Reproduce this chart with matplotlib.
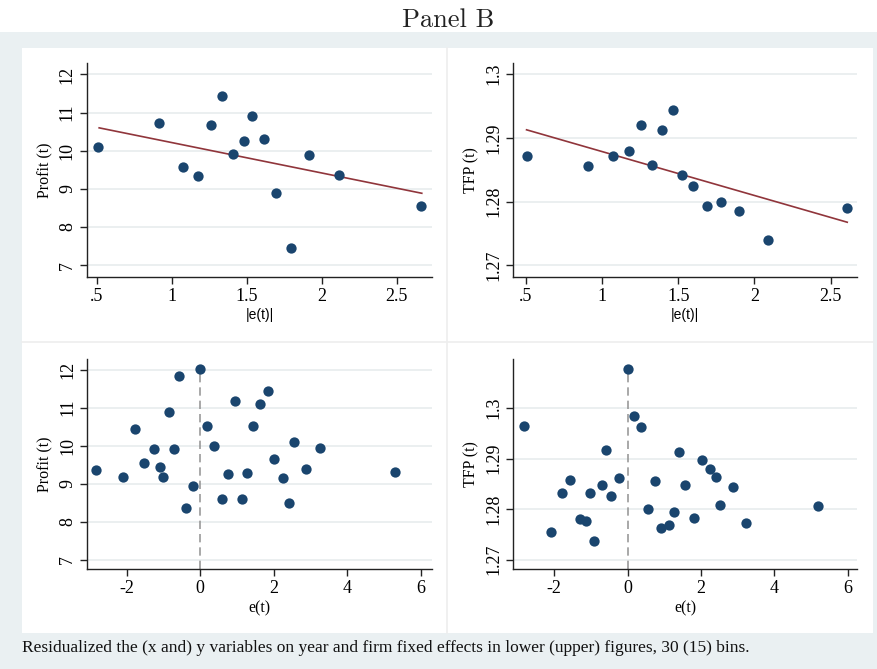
import matplotlib
matplotlib.use("Agg")
import matplotlib.pyplot as plt
from matplotlib.patches import Rectangle
from matplotlib.lines import Line2D

# ---------------- data ----------------
# Top-left: |e(t)| vs Profit (15 bins)
tl_x = [0.511, 0.913, 1.073, 1.178, 1.26, 1.336, 1.411, 1.48, 1.536, 1.618, 1.698, 1.793, 1.918, 2.118, 2.66]
tl_y = [10.09, 10.74, 9.57, 9.34, 10.68, 11.44, 9.92, 10.25, 10.90, 10.31, 8.88, 7.45, 9.88, 9.37, 8.54]
tl_fit_x = [0.516, 2.667]
tl_fit_y = [10.60, 8.885]

# Top-right: |e(t)| vs TFP (15 bins)
tr_x = [0.504, 0.909, 1.069, 1.174, 1.255, 1.327, 1.395, 1.465, 1.526, 1.598, 1.686, 1.780, 1.896, 2.086, 2.609]
tr_y = [1.2871, 1.28565, 1.28707, 1.28801, 1.29194, 1.28581, 1.29120, 1.29440, 1.28419, 1.28241,
        1.27937, 1.28000, 1.27853, 1.27403, 1.27901]
tr_fit_x = [0.504, 2.609]
tr_fit_y = [1.29126, 1.27675]

# Bottom-left: e(t) vs Profit (30 bins)
bl_x = [-2.825, -2.091, -1.764, -1.537, -1.256, -1.084, -1.002, -0.857, -0.703, -0.576,
        -0.395, -0.204, -0.005, 0.177, 0.376, 0.594, 0.766, 0.957, 1.138, 1.265,
        1.438, 1.628, 1.855, 2.0, 2.245, 2.417, 2.544, 2.889, 3.261, 5.302]
bl_y = [9.368, 9.175, 10.447, 9.535, 9.912, 9.447, 9.175, 10.886, 9.912, 11.833,
        8.360, 8.939, 12.018, 10.526, 9.991, 8.605, 9.263, 11.175, 8.605, 9.289,
        10.526, 11.105, 11.447, 9.640, 9.149, 8.5, 10.096, 9.395, 9.930, 9.316]

# Bottom-right: e(t) vs TFP (30 bins)
br_x = [-2.827, -2.091, -1.782, -1.573, -1.3, -1.127, -1.018, -0.909, -0.709, -0.6,
        -0.455, -0.236, 0.0, 0.164, 0.364, 0.545, 0.755, 0.909, 1.118, 1.264,
        1.391, 1.564, 1.809, 2.027, 2.236, 2.409, 2.518, 2.882, 3.218, 5.2]
br_y = [1.29656, 1.27555, 1.28315, 1.28579, 1.27806, 1.27766, 1.28315, 1.27377, 1.28474, 1.29174,
        1.28269, 1.28619, 1.30786, 1.29848, 1.29623, 1.28004, 1.28559, 1.27634, 1.27687, 1.27951,
        1.29134, 1.28474, 1.27819, 1.28976, 1.28804, 1.28639, 1.28084, 1.28434, 1.27720, 1.28071]

top_xticks = [0.5, 1, 1.5, 2, 2.5]
top_xticklabels = [".5", "1", "1.5", "2", "2.5"]
bot_xticks = [-2, 0, 2, 4, 6]
bot_xticklabels = ["-2", "0", "2", "4", "6"]
profit_ticks = [7, 8, 9, 10, 11, 12]
profit_ticklabels = ["7", "8", "9", "10", "11", "12"]
tfp_ticks = [1.27, 1.28, 1.29, 1.30]
tfp_ticklabels = ["1.27", "1.28", "1.29", "1.3"]

title = "Panel B"
caption = ("Residualized the (x and) y variables on year and firm fixed effects "
           "in lower (upper) figures, 30 (15) bins.")

# ---------------- style ----------------
W, H = 877, 669
plt.rcParams['font.family'] = ['Liberation Serif', 'DejaVu Serif']
NAVY = '#1a456e'
MAROON = '#90353b'
BG = '#eaf0f2'
GRID = '#e8ecee'

fig = plt.figure(figsize=(W / 100, H / 100), dpi=100)
fig.patch.set_facecolor('white')


def fx(px):
    return px / W


def fy(py):
    return 1 - py / H


# background band and white panel area
fig.patches.append(Rectangle((0, 0), 1, fy(32), transform=fig.transFigure,
                             facecolor=BG, edgecolor='none', zorder=-10))
fig.patches.append(Rectangle((fx(22), fy(633)), fx(873) - fx(22), fy(48) - fy(633),
                             transform=fig.transFigure, facecolor='white',
                             edgecolor='none', zorder=-9))
fig.lines.append(Line2D([fx(446.5), fx(446.5)], [fy(48), fy(633)], transform=fig.transFigure,
                        color='#eeeeee', lw=1.2, zorder=-8))
fig.lines.append(Line2D([fx(22), fx(873)], [fy(341.5), fy(341.5)], transform=fig.transFigure,
                        color='#eeeeee', lw=1.2, zorder=-8))


def make_ax(left, right, top, bottom):
    ax = fig.add_axes([fx(left), fy(bottom), fx(right) - fx(left), fy(top) - fy(bottom)])
    ax.set_facecolor('none')
    for s in ['top', 'right']:
        ax.spines[s].set_visible(False)
    for s in ['left', 'bottom']:
        ax.spines[s].set_linewidth(1.0)
        ax.spines[s].set_color('#222222')
    ax.tick_params(direction='out', length=5, width=1.0, color='#222222',
                   labelsize=13, pad=3)
    ax.tick_params(axis='y', labelrotation=90)
    ax.set_axisbelow(True)
    ax.yaxis.grid(True, color=GRID, lw=1.2)
    return ax


def style_yticks(ax):
    for lbl in ax.get_yticklabels():
        lbl.set_va('center')


# Top-left
ax1 = make_ax(87, 432, 63, 277)
ax1.scatter(tl_x, tl_y, s=55, color=NAVY, zorder=3, linewidths=0)
ax1.plot(tl_fit_x, tl_fit_y, color=MAROON, lw=1.2, zorder=2)
ax1.set_xlim(0.435, 2.735)
ax1.set_ylim(6.69, 12.3)
ax1.set_xticks(top_xticks, top_xticklabels)
ax1.set_yticks(profit_ticks, profit_ticklabels)
ax1.set_ylabel("Profit (t)", fontsize=11.5, labelpad=4)
ax1.set_xlabel("|e(t)|", fontsize=10, family=['Liberation Sans', 'DejaVu Sans'], labelpad=2)
style_yticks(ax1)

# Top-right
ax2 = make_ax(513.3, 857.3, 63.3, 276.7)
ax2.scatter(tr_x, tr_y, s=55, color=NAVY, zorder=3, linewidths=0)
ax2.plot(tr_fit_x, tr_fit_y, color=MAROON, lw=1.2, zorder=2)
ax2.set_xlim(0.417, 2.675)
ax2.set_ylim(1.2682, 1.3017)
ax2.set_xticks(top_xticks, top_xticklabels)
ax2.set_yticks(tfp_ticks, tfp_ticklabels)
ax2.set_ylabel("TFP (t)", fontsize=11.5, labelpad=4)
ax2.set_xlabel("|e(t)|", fontsize=10, family=['Liberation Sans', 'DejaVu Sans'], labelpad=2)
style_yticks(ax2)

# Bottom-left
ax3 = make_ax(87.3, 431.7, 359.3, 569.3)
ax3.scatter(bl_x, bl_y, s=55, color=NAVY, zorder=3, linewidths=0)
ax3.set_xlim(-3.07, 6.30)
ax3.set_ylim(6.746, 12.27)
ax3.axvline(0, ymin=0, ymax=0.95, color='#999999', lw=1.2, ls=(0, (5, 3)), zorder=2)
ax3.set_xticks(bot_xticks, bot_xticklabels)
ax3.set_yticks(profit_ticks, profit_ticklabels)
ax3.set_ylabel("Profit (t)", fontsize=11.5, labelpad=4)
ax3.set_xlabel("e(t)", fontsize=11.5, labelpad=2)
style_yticks(ax3)

# Bottom-right
ax4 = make_ax(513.3, 857.3, 359.3, 569.3)
ax4.scatter(br_x, br_y, s=55, color=NAVY, zorder=3, linewidths=0)
ax4.set_xlim(-3.118, 6.264)
ax4.set_ylim(1.26808, 1.3097)
ax4.axvline(0, ymin=0, ymax=0.95, color='#999999', lw=1.2, ls=(0, (5, 3)), zorder=2)
ax4.set_xticks(bot_xticks, bot_xticklabels)
ax4.set_yticks(tfp_ticks, tfp_ticklabels)
ax4.set_ylabel("TFP (t)", fontsize=11.5, labelpad=4)
ax4.set_xlabel("e(t)", fontsize=11.5, labelpad=2)
style_yticks(ax4)

fig.text(fx(448), fy(20), title, family=['cmr10', 'DejaVu Serif'], fontsize=19,
         ha='center', va='center', color='#222222')
fig.text(fx(22), fy(648), caption, fontsize=12.5, ha='left', va='center', color='#111111')

fig.savefig('out.png', dpi=100, facecolor=fig.get_facecolor())
